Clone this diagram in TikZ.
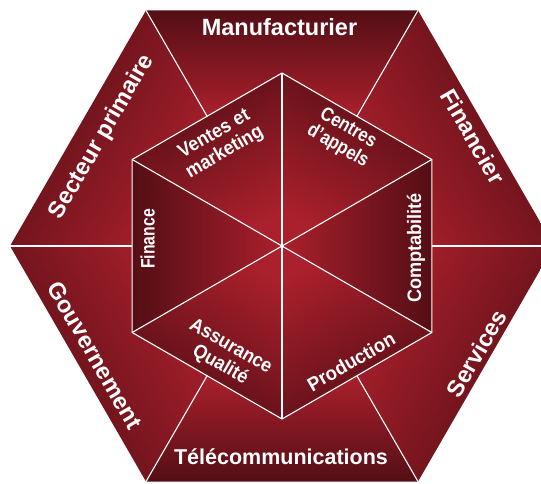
\documentclass[tikz,border=0pt]{standalone}
\usepackage{fontspec}
\setmainfont{Liberation Sans}
\usepackage{graphicx}
\definecolor{dk}{RGB}{84,14,21}
\definecolor{br}{RGB}{170,32,44}
\tikzset{
  region/.style={top color=dk, bottom color=br, shading angle=#1},
  sepline/.style={draw=white, line width=1.1pt},
  outerlbl/.style={text=white, font=\bfseries\fontsize{23.5}{26}\selectfont, inner sep=0pt},
  innerlbl/.style={text=white, font=\bfseries\fontsize{19.5}{21}\selectfont, inner sep=0pt},
}
\newcommand\sqz[2]{\scalebox{#1}[1]{\begin{tabular}{@{}c@{}}#2\end{tabular}}}
\begin{document}
\begin{tikzpicture}[x=1pt,y=1pt]
\useasboundingbox (0,0) rectangle (541,483);
\clip (0,0) rectangle (541,483);
\begin{scope}[shift={(282,237)}]
  \coordinate (C) at (0,0);
  \foreach \a in {0,60,...,300} {
    \coordinate (O\a) at (\a:272);
    \coordinate (M\a) at (\a:149.8);
  }
  \foreach \a in {30,90,150,210,270,330} {
    \coordinate (I\a) at (\a:173);
  }
  % outer ring regions
  \shade[region=0]   (O60) -- (O120) -- (M120) -- (I90) -- (M60) -- cycle;
  \shade[region=60]  (O120) -- (O180) -- (M180) -- (I150) -- (M120) -- cycle;
  \shade[region=120] (O180) -- (O240) -- (M240) -- (I210) -- (M180) -- cycle;
  \shade[region=180] (O240) -- (O300) -- (M300) -- (I270) -- (M240) -- cycle;
  \shade[region=240] (O300) -- (O0) -- (M0) -- (I330) -- (M300) -- cycle;
  \shade[region=-60] (O0) -- (O60) -- (M60) -- (I30) -- (M0) -- cycle;
  % inner triangles
  \shade[region=30]   (C) -- (I90) -- (I150) -- cycle;
  \shade[region=-30]  (C) -- (I30) -- (I90) -- cycle;
  \shade[region=-90]  (C) -- (I330) -- (I30) -- cycle;
  \shade[region=-150] (C) -- (I270) -- (I330) -- cycle;
  \shade[region=150]  (C) -- (I210) -- (I270) -- cycle;
  \shade[region=90]   (C) -- (I150) -- (I210) -- cycle;
  % white separators
  \draw[sepline] (I30) -- (I90) -- (I150) -- (I210) -- (I270) -- (I330) -- cycle;
  \foreach \a in {30,90,150,210,270,330} { \draw[sepline] (C) -- (I\a); }
  \foreach \a in {0,60,...,300} { \draw[sepline] (M\a) -- (O\a); }
\end{scope}
% outer labels
\node[outerlbl, anchor=base] (manu) at (279.5,447) {Manufacturier};
\node[outerlbl, anchor=base, font=\bfseries\fontsize{21.5}{24}\selectfont] (tele) at (281,19) {Télécommunications};
\node[outerlbl, rotate=60] (sect) at (102,346) {Secteur primaire};
\node[outerlbl, rotate=-60] (fina) at (473,346.5) {Financier};
\node[outerlbl, rotate=-60] (gouv) at (95,128) {Gouvernement};
\node[outerlbl, rotate=60] (serv) at (476.5,129.5) {Services};
% inner labels
\node[innerlbl, rotate=30] (vent) at (220,339) {\sqz{0.92}{Ventes et\\marketing}};
\node[innerlbl, rotate=-30] (cent) at (342.5,345) {\sqz{0.85}{Centres\\d’appels}};
\node[innerlbl, rotate=90] (comp) at (417,235) {\sqz{0.93}{Comptabilité}};
\node[innerlbl, rotate=90] (fin) at (150.5,244) {\sqz{0.81}{Finance}};
\node[innerlbl, rotate=30] (prod) at (352.5,119) {\sqz{0.95}{Production}};
\node[innerlbl, rotate=-30] (assu) at (225,126.5) {\sqz{0.92}{Assurance\\Qualité}};
\end{tikzpicture}
\end{document}
